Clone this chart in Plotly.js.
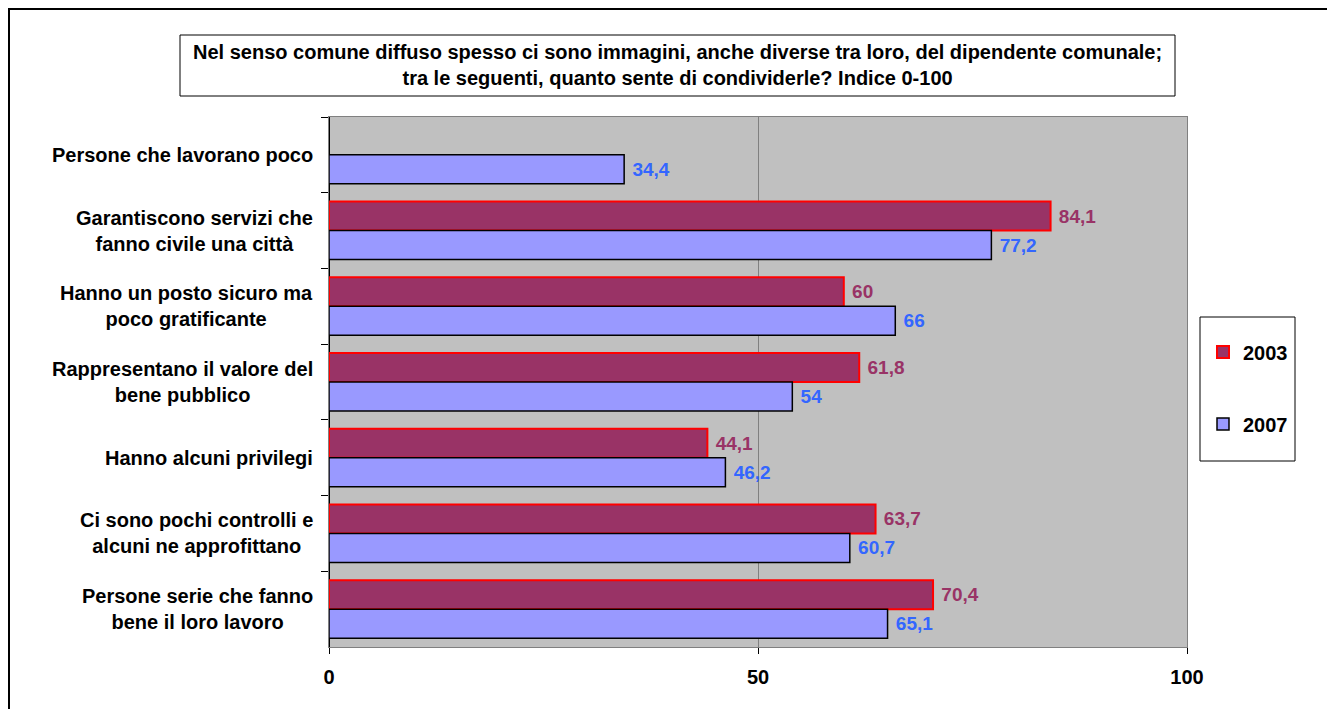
<!DOCTYPE html>
<html>
<head>
<meta charset="utf-8">
<script src="https://cdn.plot.ly/plotly-3.0.1.min.js"></script>
<style>
  html, body { margin: 0; padding: 0; background: #ffffff; overflow: hidden; }
  #chart { width: 1327px; height: 709px; }
</style>
</head>
<body>
<div id="chart"></div>
<script>
// Categories, top to bottom
const categories = [
  "Persone che lavorano poco",
  "Garantiscono servizi che fanno civile una città",
  "Hanno un posto sicuro ma poco gratificante",
  "Rappresentano il valore del bene pubblico",
  "Hanno alcuni privilegi",
  "Ci sono pochi controlli e alcuni ne approfittano",
  "Persone serie che fanno bene il loro lavoro"
];
// Axis labels as they are broken over lines
const categoryLabels = [
  "Persone che lavorano poco",
  "Garantiscono servizi che<br>fanno civile una città",
  "Hanno un posto sicuro ma<br>poco gratificante",
  "Rappresentano il valore del<br>bene pubblico",
  "Hanno alcuni privilegi",
  "Ci sono pochi controlli e<br>alcuni ne approfittano",
  "Persone serie che fanno<br>bene il loro lavoro"
];
const values2003 = [null, 84.1, 60, 61.8, 44.1, 63.7, 70.4];
const values2007 = [34.4, 77.2, 66, 54, 46.2, 60.7, 65.1];
const xTicks = [0, 50, 100];
const chartTitle = "Nel senso comune diffuso spesso ci sono immagini, anche diverse tra loro, del dipendente comunale;<br>tra le seguenti, quanto sente di condividerle? Indice 0-100";

const FONT = "'Liberation Sans', Arial, sans-serif";

const traces = [
  {
    type: "bar", orientation: "h", name: "2003",
    y: categories, x: values2003,
    marker: { color: "#993366", line: { color: "#FF0000", width: 2 } },
    texttemplate: "\u00A0%{x}", textposition: "outside", constraintext: "none",
    cliponaxis: false,
    textfont: { family: FONT, size: 19, color: "#993366", weight: "bold" },
    hoverinfo: "x+y", legend: "legend"
  },
  {
    type: "bar", orientation: "h", name: "2007",
    y: categories, x: values2007,
    marker: { color: "#9999FF", line: { color: "#000000", width: 1.5 } },
    texttemplate: "\u00A0%{x}", textposition: "outside", constraintext: "none",
    cliponaxis: false,
    textfont: { family: FONT, size: 19, color: "#3366FF", weight: "bold" },
    hoverinfo: "x+y", legend: "legend2"
  }
];

// Plot area geometry in pixels (used to place paper-referenced boxes)
const W = 1327, H = 709;
const L = 329, R = 1187, T = 117, B = 647;
const px = v => (v - L) / (R - L);
const py = v => (B - v) / (B - T);

const annotations = categories.map((c, i) => ({
  xref: "paper", yref: "y", x: px(315), y: c,
  xanchor: "right", yanchor: "middle", align: "center",
  text: categoryLabels[i], showarrow: false,
  font: { family: FONT, size: 20, color: "#000000", weight: "bold" }
}));
annotations.push({
  xref: "paper", yref: "paper", x: px(677.5), y: py(65),
  xanchor: "center", yanchor: "middle", align: "center",
  text: chartTitle, showarrow: false,
  font: { family: FONT, size: 20, color: "#000000", weight: "bold" }
});

const layout = {
  width: W, height: H,
  margin: { l: L, r: W - R, t: T, b: H - B, pad: 0 },
  paper_bgcolor: "#FFFFFF",
  plot_bgcolor: "#C0C0C0",
  separators: ",.",
  barmode: "group",
  bargap: 0.234,
  bargroupgap: 0,
  showlegend: true,
  font: { family: FONT, size: 20, color: "#000000" },
  xaxis: {
    range: [0, 100], tickvals: xTicks, ticktext: xTicks.map(String),
    ticks: "outside", ticklen: 6, tickcolor: "#000000", tickwidth: 1,
    ticklabelstandoff: 6,
    tickfont: { family: FONT, size: 20, color: "#000000", weight: "bold" },
    showgrid: true, gridcolor: "#808080", gridwidth: 1,
    zeroline: true, zerolinecolor: "#000000", zerolinewidth: 1,
    showline: true, linecolor: "#808080", linewidth: 1, mirror: true,
    fixedrange: true
  },
  yaxis: {
    type: "category", autorange: "reversed",
    showticklabels: false,
    ticks: "outside", tickson: "boundaries", ticklen: 7, tickcolor: "#000000",
    showgrid: false, zeroline: false,
    showline: true, linecolor: "#808080", linewidth: 1, mirror: true,
    fixedrange: true
  },
  legend: {
    x: px(1203), xanchor: "left", y: py(352), yanchor: "middle",
    bgcolor: "rgba(0,0,0,0)", borderwidth: 0,
    font: { family: FONT, size: 20, color: "#000000", weight: "bold" }
  },
  legend2: {
    x: px(1203), xanchor: "left", y: py(424), yanchor: "middle",
    bgcolor: "rgba(0,0,0,0)", borderwidth: 0,
    font: { family: FONT, size: 20, color: "#000000", weight: "bold" }
  },
  shapes: [
    // outer chart frame (runs past the right and bottom edges)
    { type: "rect", xref: "paper", yref: "paper", layer: "above",
      x0: px(9), x1: px(1600), y0: py(900), y1: py(9),
      line: { color: "#000000", width: 2 }, fillcolor: "rgba(0,0,0,0)" },
    // title box
    { type: "rect", xref: "paper", yref: "paper", layer: "above",
      x0: px(180), x1: px(1175), y0: py(96), y1: py(35),
      line: { color: "#000000", width: 1 }, fillcolor: "rgba(0,0,0,0)" },
    // legend box
    { type: "rect", xref: "paper", yref: "paper", layer: "above",
      x0: px(1200), x1: px(1295), y0: py(461), y1: py(317),
      line: { color: "#000000", width: 1 }, fillcolor: "rgba(0,0,0,0)" }
  ],
  annotations: annotations
};

Plotly.newPlot("chart", traces, layout, { displayModeBar: false, staticPlot: true });
</script>
</body>
</html>
